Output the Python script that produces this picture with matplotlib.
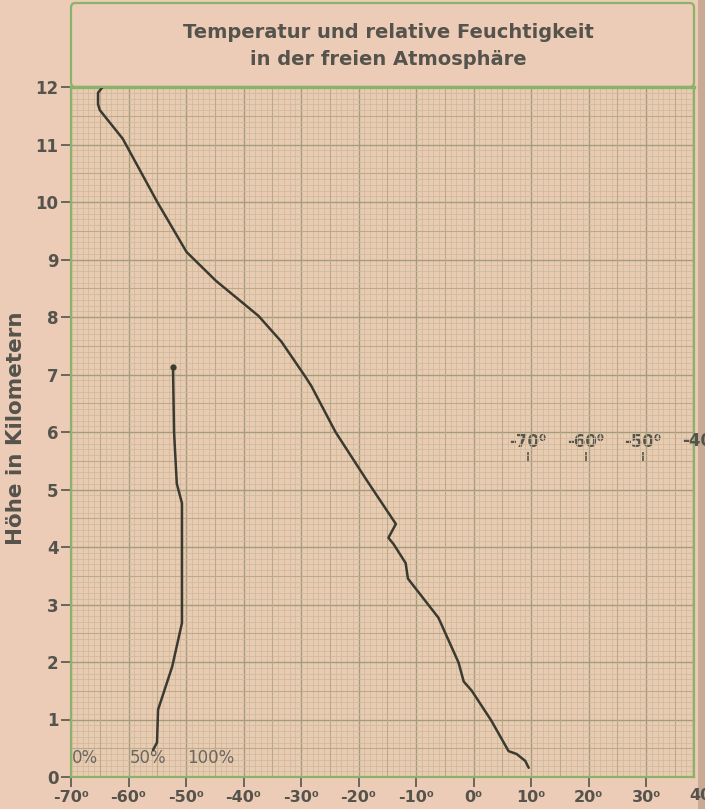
import numpy as np
import matplotlib
matplotlib.use("Agg")
import matplotlib.pyplot as plt
from matplotlib.ticker import MultipleLocator
from matplotlib.patches import FancyBboxPatch, Rectangle

# ---------------- data ----------------
temp_height = [12.22, 12.08, 12.0, 11.9, 11.7, 11.6, 11.1, 10.0, 9.13, 8.63, 8.02, 7.57,
               7.0, 6.8, 6.0, 5.15, 4.4, 4.16, 4.05, 3.72, 3.45, 2.77, 1.99, 1.66, 1.5,
               0.98, 0.45, 0.4, 0.28, 0.16]
temp_value = [-63.5, -63.5, -64.5, -65.3, -65.3, -65.0, -61.0, -55.0, -49.9, -44.8, -37.4, -33.4,
              -29.5, -28.2, -24.0, -18.5, -13.5, -14.8, -13.9, -11.8, -11.4, -6.1, -2.6, -1.7, -0.3,
              3.1, 6.1, 7.5, 9.0, 9.6]

hum_height = [7.13, 6.0, 5.1, 4.76, 3.95, 2.68, 1.92, 1.17, 0.6, 0.47]
hum_value = [88.7, 89.6, 92.0, 96.5, 96.5, 96.5, 88.0, 75.7, 74.8, 71.3]

x_ticks = [-70, -60, -50, -40, -30, -20, -10, 0, 10, 20, 30, 40]
y_ticks = list(range(0, 13))
hum_ticks = [0, 50, 100]
upper_scale_ticks = [-70, -60, -50, -40]

title = "Temperatur und relative Feuchtigkeit\nin der freien Atmosphäre"
ylabel = "Höhe in Kilometern"

# ---------------- style ----------------
paper = "#ecccb7"
grid_bg = "#e9cbb2"
grid_minor = "#cdbb9c"
grid_mid = "#b9ab8a"
grid_major = "#a39d7b"
frame_green = "#8bb26a"
ink = "#3b3a30"
text_col = "#55534c"

W, H = 705, 809
fig = plt.figure(figsize=(W / 100, H / 100), dpi=100, facecolor=paper)

left_px, right_px, top_px, bot_px = 71, 694, 87, 777
ax = fig.add_axes([left_px / W, 1 - bot_px / H, (right_px - left_px) / W, (bot_px - top_px) / H])
ax.set_facecolor(grid_bg)
xmax = -70 + (right_px - left_px) / 5.75
ax.set_xlim(-70, xmax)
ax.set_ylim(0, 12)

# graph-paper grid
ax.xaxis.set_minor_locator(MultipleLocator(1))
ax.yaxis.set_minor_locator(MultipleLocator(0.1))
ax.grid(which="minor", color=grid_minor, lw=0.55)
for v in np.arange(-65, xmax, 10):
    ax.axvline(v, color=grid_mid, lw=0.8, zorder=0.6)
for v in np.arange(0.5, 12, 1):
    ax.axhline(v, color=grid_mid, lw=0.8, zorder=0.6)
ax.xaxis.set_major_locator(MultipleLocator(10))
ax.yaxis.set_major_locator(MultipleLocator(1))
ax.grid(which="major", color=grid_major, lw=1.0)
ax.set_axisbelow(True)

for s in ax.spines.values():
    s.set_color(frame_green)
    s.set_linewidth(1.6)
ax.spines["top"].set_linewidth(2.4)

bold = dict(family="DejaVu Sans", weight="bold")
shown_x = [t for t in x_ticks if t <= xmax]
ax.set_xticks(shown_x)
ax.set_xticklabels([f"{t}⁰" for t in shown_x], fontsize=11.5, color=text_col, **bold)
ax.set_yticks(y_ticks)
ax.set_yticklabels([str(t) for t in y_ticks], fontsize=12, color=text_col, **bold)
ax.tick_params(axis="both", which="major", length=7, width=1.2, color=text_col, direction="out", pad=2)
ax.tick_params(axis="both", which="minor", length=0)
for t in x_ticks:
    if t > xmax:
        ax.text(t, -0.32, f"{t}⁰", fontsize=11.5, color=text_col, ha="center", va="center",
                clip_on=False, **bold)

ax.set_ylabel(ylabel, fontsize=15.5, color=text_col, **bold)
ax.yaxis.set_label_coords(-0.072, 0.505)

# temperature curve
ax.plot(temp_value, temp_height, color=ink, lw=1.8, solid_capstyle="round", solid_joinstyle="round", zorder=5)

# second (shifted) temperature scale in the middle of the chart
shift = 79.5
sec = ax.secondary_xaxis(5.48 / 12, functions=(lambda x: x - shift, lambda x: x + shift))
sec.set_alignment("top")
sec.spines["top"].set_visible(False)
sec.spines["bottom"].set_visible(False)
inside = [t for t in upper_scale_ticks if t + shift <= xmax]
sec.set_xticks(inside)
sec.set_xticklabels([f"{t}⁰" for t in inside], fontsize=12, color=text_col, **bold)
sec.tick_params(axis="x", length=7, width=1.2, color=text_col, direction="out", pad=1)
for t in upper_scale_ticks:
    if t + shift > xmax:
        ax.text(t + shift, 5.84, f"{t}⁰", fontsize=12, color=text_col, ha="center", va="center",
                clip_on=False, **bold)

# relative humidity on its own scale (0 % at -70°, 100 % at -50°)
ax2 = ax.twiny()
ax2.set_xlim(0, (xmax + 70) * 5)
ax2.set_ylim(0, 12)
ax2.axis("off")
ax2.plot(hum_value, hum_height, color=ink, lw=1.8, solid_capstyle="round", zorder=5)
ax2.plot(hum_value[0], hum_height[0], "o", color=ink, ms=3.5, zorder=6)
for p in hum_ticks:
    ax2.text(p + 1, 0.33, f"{p}%", fontsize=12, color="#6b6760", ha="left", va="center",
             family="DejaVu Sans Condensed")

# outer frame with title box
box = FancyBboxPatch((left_px / W, 1 - top_px / H), (right_px - left_px) / W, (top_px - 3) / H,
                     boxstyle="round,pad=0,rounding_size=0.006", transform=fig.transFigure,
                     fill=False, edgecolor=frame_green, lw=1.6)
fig.add_artist(box)
# darker page edge at the right
fig.add_artist(Rectangle((698 / W, 0), 7 / W, 1, transform=fig.transFigure,
                         facecolor="#c9ab95", edgecolor="none", zorder=-1))

fig.text(388 / W, 1 - 46 / H, title, ha="center", va="center", fontsize=14, color=text_col,
         family=["Liberation Sans Narrow", "DejaVu Sans"], weight="bold", linespacing=1.5)

fig.savefig("out.png", dpi=100, facecolor=paper)
